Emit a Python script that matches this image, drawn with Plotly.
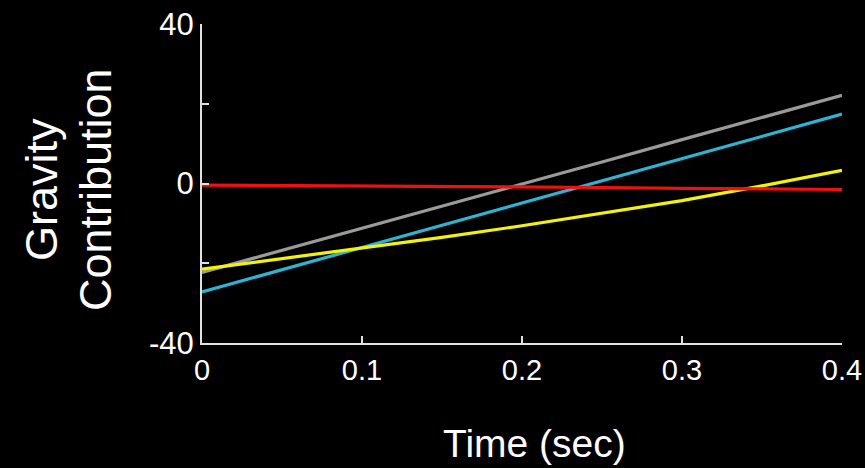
import plotly.graph_objects as go

time_pts = [0.0, 0.05, 0.1, 0.15, 0.2, 0.25, 0.3, 0.35, 0.4]
red_vals = [-0.4, -0.5, -0.6, -0.7, -0.9, -1.0, -1.2, -1.3, -1.5]
gray_vals = [-22.3, -16.8, -11.2, -5.7, -0.1, 5.4, 11.0, 16.5, 22.1]
cyan_vals = [-27.2, -21.6, -16.0, -10.5, -4.9, 0.7, 6.2, 11.8, 17.4]
yellow_vals = [-21.5, -18.9, -16.2, -13.5, -10.6, -7.5, -4.3, -0.6, 3.3]

y_tick_vals = [-40, -20, 0, 20, 40]
y_tick_text = ["-40", "", "0", "", "40"]
x_tick_vals = [0, 0.1, 0.2, 0.3, 0.4]
x_tick_text = ["0", "0.1", "0.2", "0.3", "0.4"]

FONT = "Liberation Sans, Arial, sans-serif"

fig = go.Figure()
series = [
    (gray_vals, "#9a9a9a"),
    (cyan_vals, "#2fb3d3"),
    (yellow_vals, "#f2f20a"),
    (red_vals, "#f01010"),
]
for vals, col in series:
    fig.add_trace(go.Scatter(x=time_pts, y=vals, mode="lines",
                             line=dict(color=col, width=3.2), showlegend=False))

W, H = 865, 468
L, R, T, B = 202, 23, 24, 125
pw, ph = W - L - R, H - T - B

def px_to_paper_x(px):
    return (px - L) / pw

def px_to_paper_y(py):
    return (H - B - py) / ph

fig.update_layout(
    width=W, height=H,
    margin=dict(l=L, r=R, t=T, b=B, autoexpand=False),
    paper_bgcolor="black", plot_bgcolor="black",
    font=dict(family=FONT, color="white"),
    xaxis=dict(range=[0, 0.4], tickvals=x_tick_vals, ticktext=x_tick_text,
               ticks="inside", ticklen=7, tickwidth=1.5, tickcolor="#e0e0e0",
               showline=True, linecolor="#e0e0e0", linewidth=2,
               showgrid=False, zeroline=False, automargin=False,
               tickfont=dict(size=29, color="white", family=FONT)),
    yaxis=dict(range=[-40, 40], tickvals=y_tick_vals, ticktext=y_tick_text,
               ticks="inside", ticklen=7, tickwidth=1.5, tickcolor="#e0e0e0",
               showline=True, linecolor="#e0e0e0", linewidth=2,
               showgrid=False, zeroline=False, automargin=False,
               tickfont=dict(size=31, color="white", family=FONT)),
    annotations=[
        dict(text="Gravity", textangle=-90, xref="paper", yref="paper",
             x=px_to_paper_x(41), y=px_to_paper_y(190), xanchor="center", yanchor="middle",
             showarrow=False, font=dict(size=45, color="white", family=FONT)),
        dict(text="Contribution", textangle=-90, xref="paper", yref="paper",
             x=px_to_paper_x(95), y=px_to_paper_y(190), xanchor="center", yanchor="middle",
             showarrow=False, font=dict(size=45, color="white", family=FONT)),
        dict(text="Time (sec)", xref="paper", yref="paper",
             x=px_to_paper_x(534), y=px_to_paper_y(443), xanchor="center", yanchor="middle",
             showarrow=False, font=dict(size=39, color="white", family=FONT)),
    ],
)

fig.write_html("out.html", config={"displayModeBar": False},
               post_script="document.body.style.margin='0';document.body.style.background='black';document.body.style.overflow='hidden';")
